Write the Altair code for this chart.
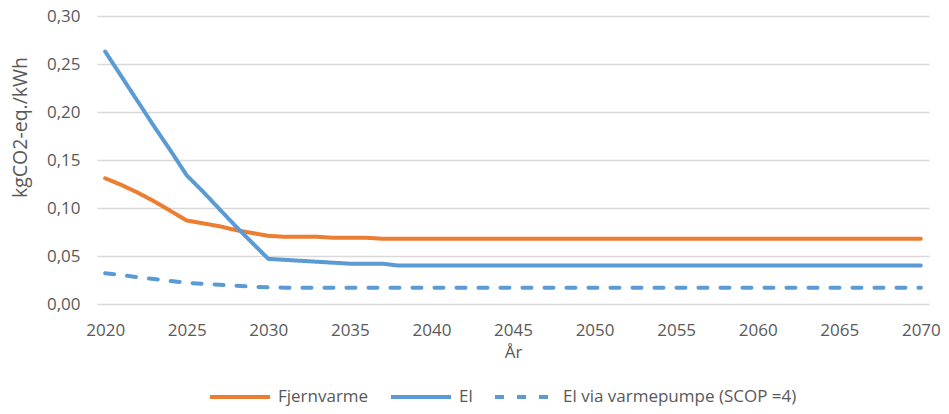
import altair as alt
import pandas as pd

years = [2020, 2021, 2022, 2023, 2024, 2025, 2026, 2027, 2028, 2029, 2030,
         2031, 2032, 2033, 2034, 2035, 2036, 2037, 2038, 2039, 2040,
         2045, 2050, 2055, 2060, 2065, 2070]

fjernvarme = [0.131, 0.124, 0.116, 0.107, 0.097, 0.087, 0.084, 0.081, 0.077, 0.074, 0.071,
              0.070, 0.070, 0.070, 0.069, 0.069, 0.069, 0.068, 0.068, 0.068, 0.068,
              0.068, 0.068, 0.068, 0.068, 0.068, 0.068]

el = [0.263, 0.237, 0.211, 0.185, 0.160, 0.134, 0.117, 0.099, 0.081, 0.064, 0.047,
      0.046, 0.045, 0.044, 0.043, 0.042, 0.042, 0.042, 0.040, 0.040, 0.040,
      0.040, 0.040, 0.040, 0.040, 0.040, 0.040]

el_vp = [0.032, 0.030, 0.028, 0.026, 0.024, 0.022, 0.021, 0.020, 0.019, 0.018, 0.0175,
         0.017, 0.017, 0.017, 0.017, 0.017, 0.017, 0.017, 0.017, 0.017, 0.017,
         0.017, 0.017, 0.017, 0.017, 0.017, 0.017]

series_names = ["Fjernvarme", "El", "El via varmepumpe (SCOP =4)"]
series_colors = ["#ED7D31", "#5B9BD5", "#5B9BD5"]
x_ticks = [2020, 2025, 2030, 2035, 2040, 2045, 2050, 2055, 2060, 2065, 2070]
y_ticks = [0.0, 0.05, 0.10, 0.15, 0.20, 0.25, 0.30]

rows = []
for name, vals in zip(series_names, [fjernvarme, el, el_vp]):
    for yr, v in zip(years, vals):
        rows.append({"År": yr, "verdi": v, "serie": name})
df = pd.DataFrame(rows)

FONT = "Open Sans"
GREY = "#595959"

chart = alt.Chart(df).mark_line(strokeWidth=4, strokeCap="round", strokeJoin="round").encode(
    x=alt.X("År:Q",
            scale=alt.Scale(domain=[2019.5, 2070.5], nice=False, zero=False),
            axis=alt.Axis(values=x_ticks, format="d", grid=False, domain=False, ticks=False,
                          labelPadding=18, title="År", titlePadding=6)),
    y=alt.Y("verdi:Q",
            scale=alt.Scale(domain=[0, 0.30], nice=False),
            axis=alt.Axis(values=y_ticks, labelExpr="replace(format(datum.value, '.2f'), '.', ',')",
                          domain=False, ticks=False, labelPadding=17,
                          title="kgCO2-eq./kWh", titleX=-77, titleY=111, titleBaseline="middle",
                          titleFontSize=19.5)),
    color=alt.Color("serie:N",
                    scale=alt.Scale(domain=series_names, range=series_colors),
                    legend=alt.Legend(title=None, orient="none", direction="horizontal",
                                      legendX=111, legendY=349, labelLimit=400,
                                      symbolType="stroke", symbolSize=3600, symbolStrokeWidth=4,
                                      labelOffset=6, columnPadding=14)),
    strokeDash=alt.StrokeDash("serie:N",
                              scale=alt.Scale(domain=series_names, range=[[1, 0], [1, 0], [9, 13]]),
                              legend=None),
    detail="serie:N",
).properties(
    width=832, height=288,
    autosize=alt.AutoSizeParams(type="none"),
    padding={"left": 89, "top": 8, "right": 12, "bottom": 102},
).configure_axis(
    labelFont=FONT, titleFont=FONT, labelColor=GREY, titleColor=GREY,
    labelFontSize=17, titleFontSize=17, titleFontWeight="normal",
    gridColor="#D9D9D9", gridWidth=1.3,
).configure_legend(
    labelFont=FONT, labelFontSize=17, labelColor=GREY,
).configure_view(stroke=None)

chart.save("out.html", embed_options={"renderer": "svg", "actions": False})
